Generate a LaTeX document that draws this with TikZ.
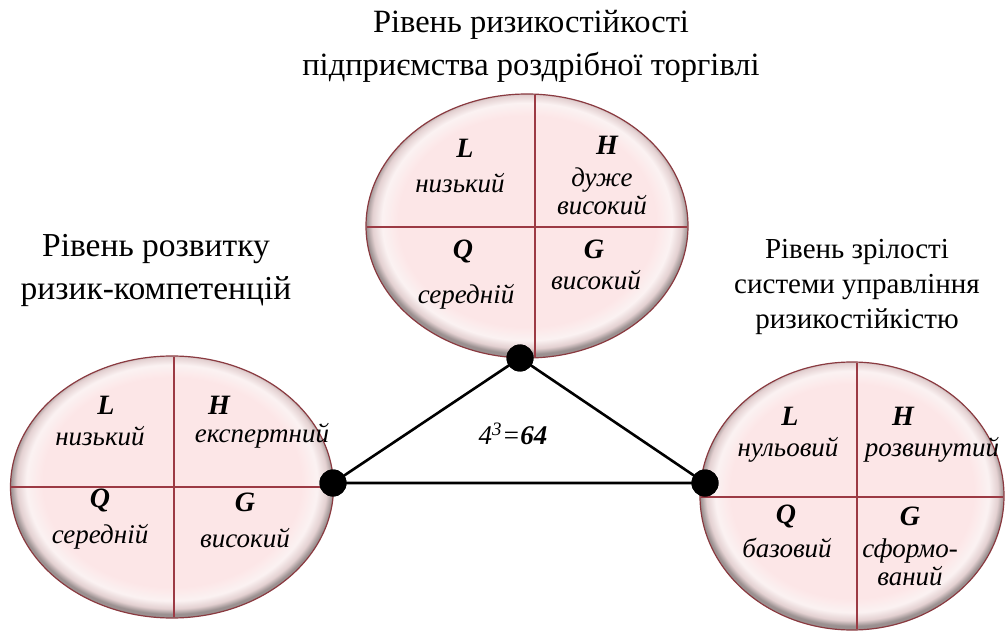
\documentclass[tikz,border=0pt]{standalone}
\usepackage{fontspec}
\setmainfont{Liberation Serif}
\usetikzlibrary{shapes.geometric}
\definecolor{pinkA}{HTML}{FCE6E7}
\definecolor{pinkB}{HTML}{FBF2F2}
\definecolor{rimgray}{HTML}{9A9090}
\definecolor{redline}{HTML}{9C3A44}
\definecolor{rimline}{HTML}{8A3A40}
\pgfdeclareradialshading{ellsh}{\pgfpoint{0bp}{1.5bp}}{%
  color(0bp)=(pinkA); color(20bp)=(pinkA); color(22.5bp)=(pinkB);
  color(24bp)=(pinkA!75!rimgray); color(25bp)=(rimgray); color(50bp)=(rimgray)}
\tikzset{
  lvl/.style={ellipse, shading=ellsh, draw=rimline, line width=1.2pt, inner sep=0pt},
  grid/.style={draw=redline, line width=1.3pt},
  dot/.style={circle, fill=black, minimum size=27pt, inner sep=0pt},
  edge/.style={draw=black, line width=2.6pt},
  ttl/.style={align=center},
  let/.style={font=\fontsize{28}{32}\selectfont\bfseries\itshape},
  wrd/.style={font=\fontsize{27}{28}\selectfont\itshape, align=center}
}
\begin{document}
\begin{tikzpicture}[x=1pt,y=-1pt]
\useasboundingbox (0,0) rectangle (1005,631);
% ellipses
\node[lvl, minimum width=322pt, minimum height=264pt] (top) at (527,226) {};
\node[lvl, minimum width=323pt, minimum height=262pt] (lft) at (172,487) {};
\node[lvl, minimum width=304pt, minimum height=268pt] (rgt) at (852,496) {};
% grids
\begin{scope}
\clip (527,226) ellipse (160pt and 131pt);
\draw[grid] (535,90) -- (535,360);
\draw[grid] (360,227) -- (700,227);
\end{scope}
\begin{scope}
\clip (172,487) ellipse (161pt and 130pt);
\draw[grid] (174,350) -- (174,620);
\draw[grid] (5,487) -- (340,487);
\end{scope}
\begin{scope}
\clip (852,496) ellipse (151pt and 133pt);
\draw[grid] (857,355) -- (857,635);
\draw[grid] (695,497) -- (1010,497);
\end{scope}
% titles
\node[ttl, font=\fontsize{32.5}{43}\selectfont] (t1) at (531,46) {Рівень ризикостійкості\\підприємства роздрібної торгівлі};
\node[ttl, font=\fontsize{33.5}{43}\selectfont] (t2) at (156,270) {Рівень розвитку\\ризик-компетенцій};
\node[ttl, font=\fontsize{29}{35}\selectfont] (t3) at (857,287) {Рівень зрілості\\системи управління\\ризикостійкістю};
% top ellipse labels
\node[let] (tL) at (465,148) {L};
\node[wrd] (tLw) at (460,183) {низький};
\node[let] (tH) at (607,145) {H};
\node[wrd] (tHw) at (602,191) {дуже\\високий};
\node[let] (tQ) at (463,252) {Q};
\node[wrd] (tQw) at (466,297) {середній};
\node[let] (tG) at (594,249) {G};
\node[wrd] (tGw) at (596,280) {високий};
% left ellipse labels
\node[let] (lL) at (106,405) {L};
\node[wrd] (lLw) at (100,436) {низький};
\node[let] (lH) at (219,405) {H};
\node[wrd] (lHw) at (262,436) {експертний};
\node[let] (lQ) at (100,500) {Q};
\node[wrd] (lQw) at (100,537) {середній};
\node[let] (lG) at (245,502) {G};
\node[wrd] (lGw) at (245,538) {високий};
% right ellipse labels
\node[let] (rL) at (790,416) {L};
\node[wrd] (rLw) at (788,450) {нульовий};
\node[let] (rH) at (903,416) {H};
\node[wrd] (rHw) at (932,450) {розвинутий};
\node[let] (rQ) at (786,516) {Q};
\node[wrd] (rQw) at (787,548) {базовий};
\node[let] (rG) at (910,516) {G};
\node[wrd] (rGw) at (910,562) {сформо-\\ваний};
% triangle
\node[dot] (dT) at (520,358) {};
\node[dot] (dL) at (333,483) {};
\node[dot] (dR) at (705,483) {};
\draw[edge] (dT.center) -- (dL.center) -- (dR.center) -- cycle;
\node[dot] at (dT) {};
\node[dot] at (dL) {};
\node[dot] at (dR) {};
\node[font=\fontsize{27}{30}\selectfont\itshape] (num) at (513,434) {4\textsuperscript{3}=\textbf{64}};
\end{tikzpicture}
\end{document}
